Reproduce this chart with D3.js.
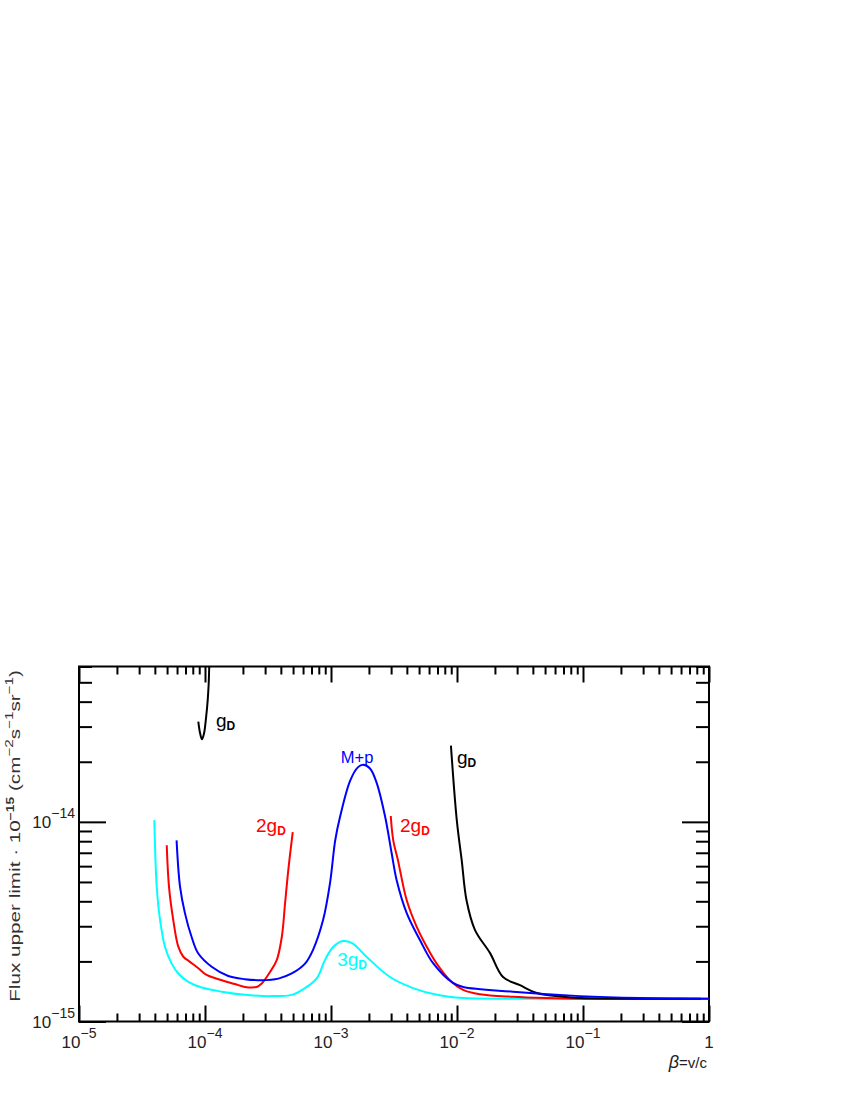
<!DOCTYPE html>
<html>
<head>
<meta charset="utf-8">
<script src="https://cdn.jsdelivr.net/npm/d3@7"></script>
<style>
    body { margin: 0; background: #fff; }
    text { font-family: 'Liberation Sans', Arial, sans-serif; }
</style>
</head>
<body>
<svg id="chart" width="850" height="1100"></svg>
<script>
// beta = v/c and flux upper limit (cm^-2 s^-1 sr^-1)
const cyanBeta = [3.96e-5, 4.14e-5, 4.40e-5, 4.81e-5, 5.44e-5, 6.14e-5, 7.37e-5, 9.42e-5, 1.36e-4, 2.07e-4,
    3.38e-4, 4.88e-4, 6.22e-4, 7.74e-4, 8.95e-4, 1.04e-3, 1.24e-3, 1.47e-3, 1.93e-3, 2.94e-3,
    4.48e-3, 6.93e-3, 1.12e-2, 2.78e-2, 9.46e-2, 0.668]
const cyanFlux = [1.02e-14, 4.72e-15, 3.22e-15, 2.37e-15, 1.95e-15, 1.74e-15, 1.58e-15, 1.48e-15, 1.41e-15, 1.36e-15,
    1.34e-15, 1.36e-15, 1.47e-15, 1.65e-15, 2.03e-15, 2.36e-15, 2.53e-15, 2.47e-15, 2.10e-15, 1.67e-15,
    1.47e-15, 1.36e-15, 1.31e-15, 1.30e-15, 1.30e-15, 1.30e-15]

const redLowBeta = [4.97e-5, 5.18e-5, 5.60e-5, 6.14e-5, 6.73e-5, 7.60e-5, 8.85e-5, 1.03e-4, 1.36e-4, 1.73e-4,
    2.07e-4, 2.57e-4, 2.82e-4, 3.28e-4, 3.71e-4, 4.07e-4, 4.32e-4, 4.58e-4, 4.97e-4]
const redLowFlux = [7.63e-15, 4.72e-15, 3.22e-15, 2.37e-15, 2.11e-15, 1.99e-15, 1.85e-15, 1.71e-15, 1.61e-15, 1.54e-15,
    1.49e-15, 1.49e-15, 1.55e-15, 1.77e-15, 2.03e-15, 2.65e-15, 3.91e-15, 5.72e-15, 8.89e-15]

const redHighBeta = [2.98e-3, 3.12e-3, 3.40e-3, 3.53e-3, 3.99e-3, 4.79e-3, 5.75e-3, 6.90e-3, 8.79e-3, 1.12e-2,
    1.52e-2, 2.78e-2, 5.18e-2, 9.46e-2, 0.3, 1]
const redHighFlux = [1.07e-14, 8.08e-15, 6.42e-15, 5.72e-15, 4.05e-15, 2.98e-15, 2.37e-15, 1.95e-15, 1.61e-15, 1.44e-15,
    1.37e-15, 1.33e-15, 1.31e-15, 1.30e-15, 1.30e-15, 1.30e-15]

const blueBeta = [5.95e-5, 6.34e-5, 6.93e-5, 7.83e-5, 8.85e-5, 1.13e-4, 1.53e-4, 2.07e-4, 2.82e-4, 3.82e-4,
    4.88e-4, 6.22e-4, 7.19e-4, 8.65e-4, 9.82e-4, 1.08e-3, 1.18e-3, 1.42e-3, 1.64e-3, 1.80e-3,
    2.04e-3, 2.31e-3, 2.69e-3, 3.03e-3, 3.32e-3, 3.99e-3, 5.08e-3, 6.46e-3, 9.29e-3, 1.12e-2,
    2.78e-2, 9.46e-2, 0.283, 1]
const blueFlux = [8.08e-15, 4.72e-15, 3.49e-15, 2.65e-15, 2.19e-15, 1.88e-15, 1.69e-15, 1.63e-15, 1.61e-15, 1.64e-15,
    1.74e-15, 1.95e-15, 2.28e-15, 3.22e-15, 4.93e-15, 8.08e-15, 1.06e-14, 1.61e-14, 1.88e-14, 1.93e-14,
    1.85e-14, 1.56e-14, 1.06e-14, 6.96e-15, 5.10e-15, 3.49e-15, 2.56e-15, 1.96e-15, 1.56e-15, 1.49e-15,
    1.41e-15, 1.34e-15, 1.31e-15, 1.30e-15]

const blackLowBeta = [8.85e-5, 9.12e-5, 9.46e-5, 9.82e-5, 1.02e-4, 1.05e-4, 1.07e-4, 1.08e-4, 1.10e-4]
const blackLowFlux = [3.18e-14, 2.80e-14, 2.59e-14, 2.77e-14, 3.34e-14, 4.05e-14, 4.93e-14, 5.92e-14, 7.63e-14]

const blackHighBeta = [8.95e-3, 9.96e-3, 1.09e-2, 1.19e-2, 1.39e-2, 1.83e-2, 2.32e-2, 3.16e-2, 4.30e-2, 6.93e-2,
    9.46e-2, 0.86]
const blackHighFlux = [2.41e-14, 1.02e-14, 6.42e-15, 4.05e-15, 2.87e-15, 2.20e-15, 1.67e-15, 1.52e-15, 1.39e-15, 1.33e-15,
    1.31e-15, 1.30e-15]

// axis ticks
const xMajor = [1e-5, 1e-4, 1e-3, 1e-2, 1e-1, 1]
const xTickBase = ['10', '10', '10', '10', '10', '1']
const xTickExp = ['\u22125', '\u22124', '\u22123', '\u22122', '\u22121', '']
const yMajor = [1e-15, 1e-14]
const yTickBase = ['10', '10']
const yTickExp = ['\u221215', '\u221214']

// curve annotations, anchored in data coordinates
const notes = [
    {text: 'g', sub: 'D', beta: 1.22e-4, flux: 2.97e-14, color: '#000', anchor: 'start', size: 19},
    {text: 'M+p', sub: '', beta: 1.61e-3, flux: 1.98e-14, color: '#0000ff', anchor: 'middle', size: 16.5},
    {text: '2g', sub: 'D', beta: 2.54e-4, flux: 8.86e-15, color: '#ff0000', anchor: 'start', size: 19},
    {text: '2g', sub: 'D', beta: 3.53e-3, flux: 8.86e-15, color: '#ff0000', anchor: 'start', size: 19},
    {text: 'g', sub: 'D', beta: 1.0e-2, flux: 1.96e-14, color: '#000', anchor: 'start', size: 19},
    {text: '3g', sub: 'D', beta: 1.12e-3, flux: 1.90e-15, color: '#00ffff', anchor: 'start', size: 19},
]

function main() {
    let svg = d3.select('#chart'),
        left = 79,
        right = 709,
        top = 666.5,
        bottom = 1021.5

    let xScale = d3.scaleLog().domain([1e-5, 1]).range([left, right])
    let yScale = d3.scaleLog().domain([1e-15, 6e-14]).range([bottom, top])

    let xMinor = [],
        yMinor = []
    d3.range(-5, 0).forEach(e => d3.range(2, 10).forEach(m => xMinor.push(m * Math.pow(10, e))))
    d3.range(-15, -13).forEach(e => d3.range(2, 10).forEach(m => {
        let v = m * Math.pow(10, e)
        if (v <= 6e-14) yMinor.push(v)
    }))

    svg.append('defs').append('clipPath')
        .attr('id', 'plot-clip')
        .append('rect')
        .attr('x', left).attr('y', top)
        .attr('width', right - left).attr('height', bottom - top)

    function ticks(axisFn, values, size, transform) {
        svg.append('g')
            .attr('transform', transform)
            .call(axisFn.tickValues(values).tickSize(size).tickFormat(''))
            .call(g => g.select('.domain').remove())
            .call(g => g.selectAll('line').attr('stroke', '#000').attr('stroke-width', 2))
    }

    ticks(d3.axisBottom(xScale), xMajor, -16, 'translate(0,' + bottom + ')')
    ticks(d3.axisBottom(xScale), xMinor, -8, 'translate(0,' + bottom + ')')
    ticks(d3.axisTop(xScale), xMajor, -16, 'translate(0,' + top + ')')
    ticks(d3.axisTop(xScale), xMinor, -8, 'translate(0,' + top + ')')
    ticks(d3.axisLeft(yScale), yMajor, -27, 'translate(' + left + ',0)')
    ticks(d3.axisLeft(yScale), yMinor, -13, 'translate(' + left + ',0)')
    ticks(d3.axisRight(yScale), yMajor, -27, 'translate(' + right + ',0)')
    ticks(d3.axisRight(yScale), yMinor, -13, 'translate(' + right + ',0)')

    svg.append('rect')
        .attr('x', left).attr('y', top)
        .attr('width', right - left).attr('height', bottom - top)
        .attr('fill', 'none')
        .attr('stroke', '#000')
        .attr('stroke-width', 2)

    // tick labels with superscript exponents
    xMajor.forEach((v, i) => {
        let t = svg.append('text')
            .attr('x', xScale(v))
            .attr('y', 1048)
            .attr('text-anchor', 'middle')
            .attr('font-size', 17)
            .attr('fill', '#222')
        t.append('tspan').text(xTickBase[i])
        if (xTickExp[i]) t.append('tspan').attr('dy', -10).attr('font-size', 14).text(xTickExp[i])
    })

    yMajor.forEach((v, i) => {
        let t = svg.append('text')
            .attr('x', 75)
            .attr('y', yScale(v) + 6)
            .attr('text-anchor', 'end')
            .attr('font-size', 17)
            .attr('fill', '#222')
        t.append('tspan').text(yTickBase[i])
        t.append('tspan').attr('dy', -10).attr('font-size', 14).text(yTickExp[i])
    })

    // axis titles
    svg.append('text')
        .attr('x', 707)
        .attr('y', 1068)
        .attr('text-anchor', 'end')
        .attr('font-size', 15)
        .attr('fill', '#222')
        .call(t => {
            t.append('tspan').attr('font-style', 'italic').attr('font-size', 18).text('\u03b2')
            t.append('tspan').text('=v/c')
        })

    let yTitle = svg.append('text')
        .attr('transform', 'translate(20,836) rotate(-90) scale(1.38,1)')
        .attr('text-anchor', 'middle')
        .attr('font-size', 15)
        .attr('fill', '#333')
    yTitle.append('tspan').text('Flux upper limit \u00b7 10')
    yTitle.append('tspan').attr('dy', -6).attr('font-size', 10).attr('font-weight', 'bold').text('\u221215')
    yTitle.append('tspan').attr('dy', 6).text(' (cm')
    yTitle.append('tspan').attr('dy', -7).attr('font-size', 11).text('\u22122')
    yTitle.append('tspan').attr('dy', 7).text('s')
    yTitle.append('tspan').attr('dy', -7).attr('font-size', 11).text('\u22121')
    yTitle.append('tspan').attr('dy', 7).text('sr')
    yTitle.append('tspan').attr('dy', -7).attr('font-size', 11).text('\u22121')
    yTitle.append('tspan').attr('dy', 7).text(')')

    // curves
    let line = d3.line()
        .x(d => xScale(d[0]))
        .y(d => yScale(d[1]))
        .curve(d3.curveCatmullRom.alpha(0.5))

    let curves = [
        {beta: cyanBeta, flux: cyanFlux, color: '#00ffff'},
        {beta: redLowBeta, flux: redLowFlux, color: '#ff0000'},
        {beta: redHighBeta, flux: redHighFlux, color: '#ff0000'},
        {beta: blackLowBeta, flux: blackLowFlux, color: '#000'},
        {beta: blackHighBeta, flux: blackHighFlux, color: '#000'},
        {beta: blueBeta, flux: blueFlux, color: '#0000ff'},
    ]

    svg.append('g')
        .attr('clip-path', 'url(#plot-clip)')
        .selectAll('path')
        .data(curves)
        .enter()
        .append('path')
        .attr('d', c => line(d3.zip(c.beta, c.flux)))
        .attr('fill', 'none')
        .attr('stroke', c => c.color)
        .attr('stroke-width', 2)
        .attr('stroke-linejoin', 'round')

    notes.forEach(n => {
        let t = svg.append('text')
            .attr('x', xScale(n.beta))
            .attr('y', yScale(n.flux))
            .attr('text-anchor', n.anchor)
            .attr('font-size', n.size)
            .attr('fill', n.color)
        t.append('tspan').text(n.text)
        if (n.sub) t.append('tspan').attr('dy', 3).attr('font-size', 12).attr('font-weight', 'bold').text(n.sub)
    })
}

main()
</script>
</body>
</html>
